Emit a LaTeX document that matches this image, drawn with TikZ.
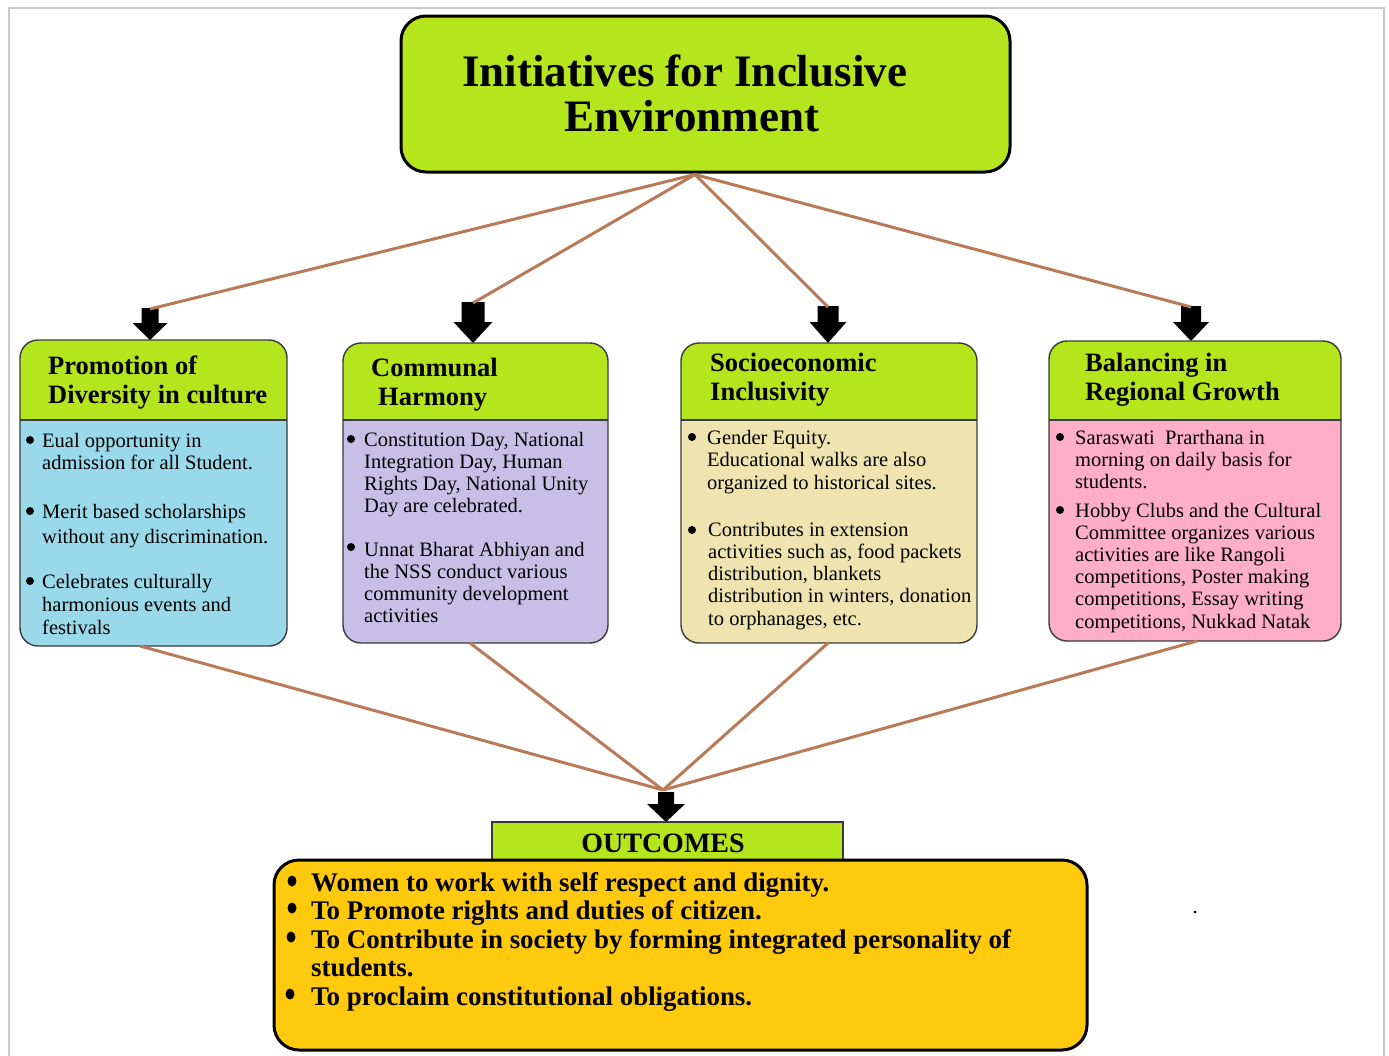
\documentclass[tikz,border=0pt]{standalone}
\usepackage{fontspec}
\usetikzlibrary{shapes.geometric}
\setmainfont{Liberation Serif}
\definecolor{lime}{HTML}{B5E61D}
\definecolor{skyblue}{HTML}{99D9EA}
\definecolor{lavender}{HTML}{C8BFE7}
\definecolor{wheat}{HTML}{EFE4B0}
\definecolor{rose}{HTML}{FFAEC9}
\definecolor{gold}{HTML}{FFC90E}
\definecolor{linkbrown}{HTML}{B97A57}
\definecolor{framegray}{HTML}{C8C8C8}
\definecolor{edgegray}{HTML}{3A3A3A}

% block arrow pointing down: name, x, top, neck, tip, half shaft, half head
\newcommand\blkarrow[7]{%
  \fill[black] (#2-#6,#3) -- (#2+#6,#3) -- (#2+#6,#4) -- (#2+#7,#4)
    -- (#2,#5) -- (#2-#7,#4) -- (#2-#6,#4) -- cycle;
  \coordinate (#1) at (#2,#3+1);}

% category box with a lime header band: name, x1, y1, x2, y2, body colour
\newcommand\catbox[6]{%
  \node[inner sep=0, outer sep=0, minimum width={#4-#2}, minimum height={#5-#3}]
    (#1) at ({(#2+#4)/2},{(#3+#5)/2}) {};
  \fill[#6, rounded corners=18] (#2,#3) rectangle (#4,#5);
  \begin{scope}
    \clip[rounded corners=18] (#2,#3) rectangle (#4,#5);
    \fill[lime] (#2,#3) rectangle (#4,420);
  \end{scope}
  \draw[boxedge] (#2,420) -- (#4,420);
  \draw[boxedge, rounded corners=18] (#2,#3) rectangle (#4,#5);}

% lines of a paragraph: name, x, first baseline, line step, lines
\newcommand\paralines[5]{%
  \foreach \t [count=\i] in {#5}
    \node[bodytxt] (#1-\i) at (#2,{#3+(\i-1)*#4}) {\t};}

\tikzset{
  boxedge/.style={draw=edgegray, line width=1.4},
  link/.style={draw=linkbrown, line width=3},
  bodytxt/.style={anchor=base west, inner sep=0, font=\fontsize{20.5}{22}\selectfont},
  headtxt/.style={anchor=base west, inner sep=0, font=\fontsize{26.5}{28}\selectfont\bfseries},
  outtxt/.style={anchor=base west, inner sep=0, font=\fontsize{26.9}{28}\selectfont\bfseries},
  titletxt/.style={anchor=base, inner sep=0, font=\fontsize{45}{50}\selectfont\bfseries},
  dot/.style={circle, fill=black, inner sep=0, minimum size=8},
  bigdot/.style={ellipse, fill=black, inner sep=0, minimum width=9, minimum height=11},
}

\begin{document}
\begin{tikzpicture}[x=1pt,y=-1pt]
\useasboundingbox (0,0) rectangle (1389,1055);
\fill[white] (0,0) rectangle (1389,1055);
\begin{scope}
  \clip (0,0) rectangle (1389,1055);
  \draw[framegray, line width=1.5] (9,1070) -- (9,8) -- (1384,8) -- (1384,1070);
\end{scope}

% headline
\node[draw=black, line width=3, rounded corners=25, fill=lime, inner sep=0,
      minimum width=609, minimum height=156] (title) at (705.5,94) {};
\node[titletxt] (title-1) at (684.5,86) {Initiatives for Inclusive};
\node[titletxt] (title-2) at (692,131) {Environment};
\coordinate (hub) at ([xshift=-10.5,yshift=-1]title.south);

% down arrows above the four categories
\blkarrow{a1}{150}{308}{323}{340}{8.5}{17.5}
\blkarrow{a2}{473}{302}{322}{343}{11.5}{19.5}
\blkarrow{a3}{828}{306}{322}{343}{10.5}{18.5}
\blkarrow{a4}{1191}{306}{322}{341}{10}{18}

\foreach \a in {a1,a2,a3,a4}
  \draw[link] (hub) -- (\a);

% the four categories
\catbox{c1}{20}{340}{287}{646}{skyblue}
\catbox{c2}{343}{343}{608}{643}{lavender}
\catbox{c3}{681}{343}{977}{643}{wheat}
\catbox{c4}{1049}{341}{1341}{641}{rose}

\node[headtxt] (h1a) at (48,374) {Promotion of};
\node[headtxt] (h1b) at (48,403) {Diversity in culture};
\node[headtxt] (h2a) at (371,376) {Communal};
\node[headtxt] (h2b) at (378,405) {Harmony};
\node[headtxt] (h3a) at (710,371) {Socioeconomic};
\node[headtxt] (h3b) at (710,400) {Inclusivity};
\node[headtxt] (h4a) at (1085,371) {Balancing in};
\node[headtxt] (h4b) at (1085,400) {Regional Growth};

% diversity in culture
\node[dot] (d11) at (30,440) {};
\paralines{p11}{42}{447}{22}{Eual opportunity in, admission for all Student.}
\node[dot] (d12) at (30,511) {};
\paralines{p12}{42}{518}{25}{Merit based scholarships, without any discrimination.}
\node[dot] (d13) at (30,581) {};
\paralines{p13}{42}{588}{23}{Celebrates culturally, harmonious events and, festivals}

% communal harmony
\node[dot] (d21) at (351,439) {};
\paralines{p21}{364}{446}{22}{{Constitution Day, National},{Integration Day, Human},
  {Rights Day, National Unity},{Day are celebrated.}}
\node[dot] (d22) at (351,547) {};
\paralines{p22}{364}{556}{22.3}{Unnat Bharat Abhiyan and, the NSS conduct various,
  community development, activities}

% socioeconomic inclusivity
\node[dot] (d31) at (692,437) {};
\paralines{p31}{707}{444}{22.5}{Gender Equity., Educational walks are also,
  organized to historical sites.}
\node[dot] (d32) at (692,530) {};
\paralines{p32}{708}{536}{22.3}{Contributes in extension,
  {activities such as, food packets},{distribution, blankets},
  {distribution in winters, donation},{to orphanages, etc.}}

% regional growth
\node[dot] (d41) at (1060,437) {};
\paralines{p41}{1075}{444}{22}{Saraswati\ \ Prarthana in, morning on daily basis for, students.}
\node[dot] (d42) at (1060,510) {};
\paralines{p42}{1075}{517}{22.2}{Hobby Clubs and the Cultural, Committee organizes various,
  activities are like Rangoli, {competitions, Poster making},
  {competitions, Essay writing},{competitions, Nukkad Natak}}

% links down to the outcomes
\coordinate (conv) at (663,790);
\draw[link] ([xshift=-13.5]c1.south) -- (conv);
\draw[link] ([xshift=-5.5]c2.south) -- (conv);
\draw[link] ([xshift=-1]c3.south) -- (conv);
\draw[link] ([xshift=2]c4.south) -- (conv);
\blkarrow{a5}{666}{792}{804}{822}{8}{19}

% outcomes
\node[draw=edgegray, line width=1.2, fill=lime, inner sep=0,
      minimum width=351, minimum height=38] (outhead) at (667.5,841) {};
\node[anchor=base, inner sep=0, font=\fontsize{28}{30}\selectfont\bfseries]
  (outhead-t) at (663,852) {OUTCOMES};
\node[draw=black, line width=3, rounded corners=25, fill=gold, inner sep=0,
      minimum width=813, minimum height=190] (outbox) at (680.5,955) {};

\node[bigdot] (o1) at (292,881) {};
\node[outtxt] (o1t) at (311,891) {Women to work with self respect and dignity.};
\node[bigdot] (o2) at (292,908) {};
\node[outtxt] (o2t) at (311,919) {To Promote rights and duties of citizen.};
\node[bigdot] (o3) at (291,937) {};
\node[outtxt] (o3t) at (311,948) {To Contribute in society by forming integrated personality of};
\node[outtxt] (o3u) at (311,976) {students.};
\node[bigdot] (o4) at (290,994) {};
\node[outtxt] (o4t) at (311,1005) {To proclaim constitutional obligations.};

\fill[black] (1195,912) circle (1.5);
\end{tikzpicture}
\end{document}
